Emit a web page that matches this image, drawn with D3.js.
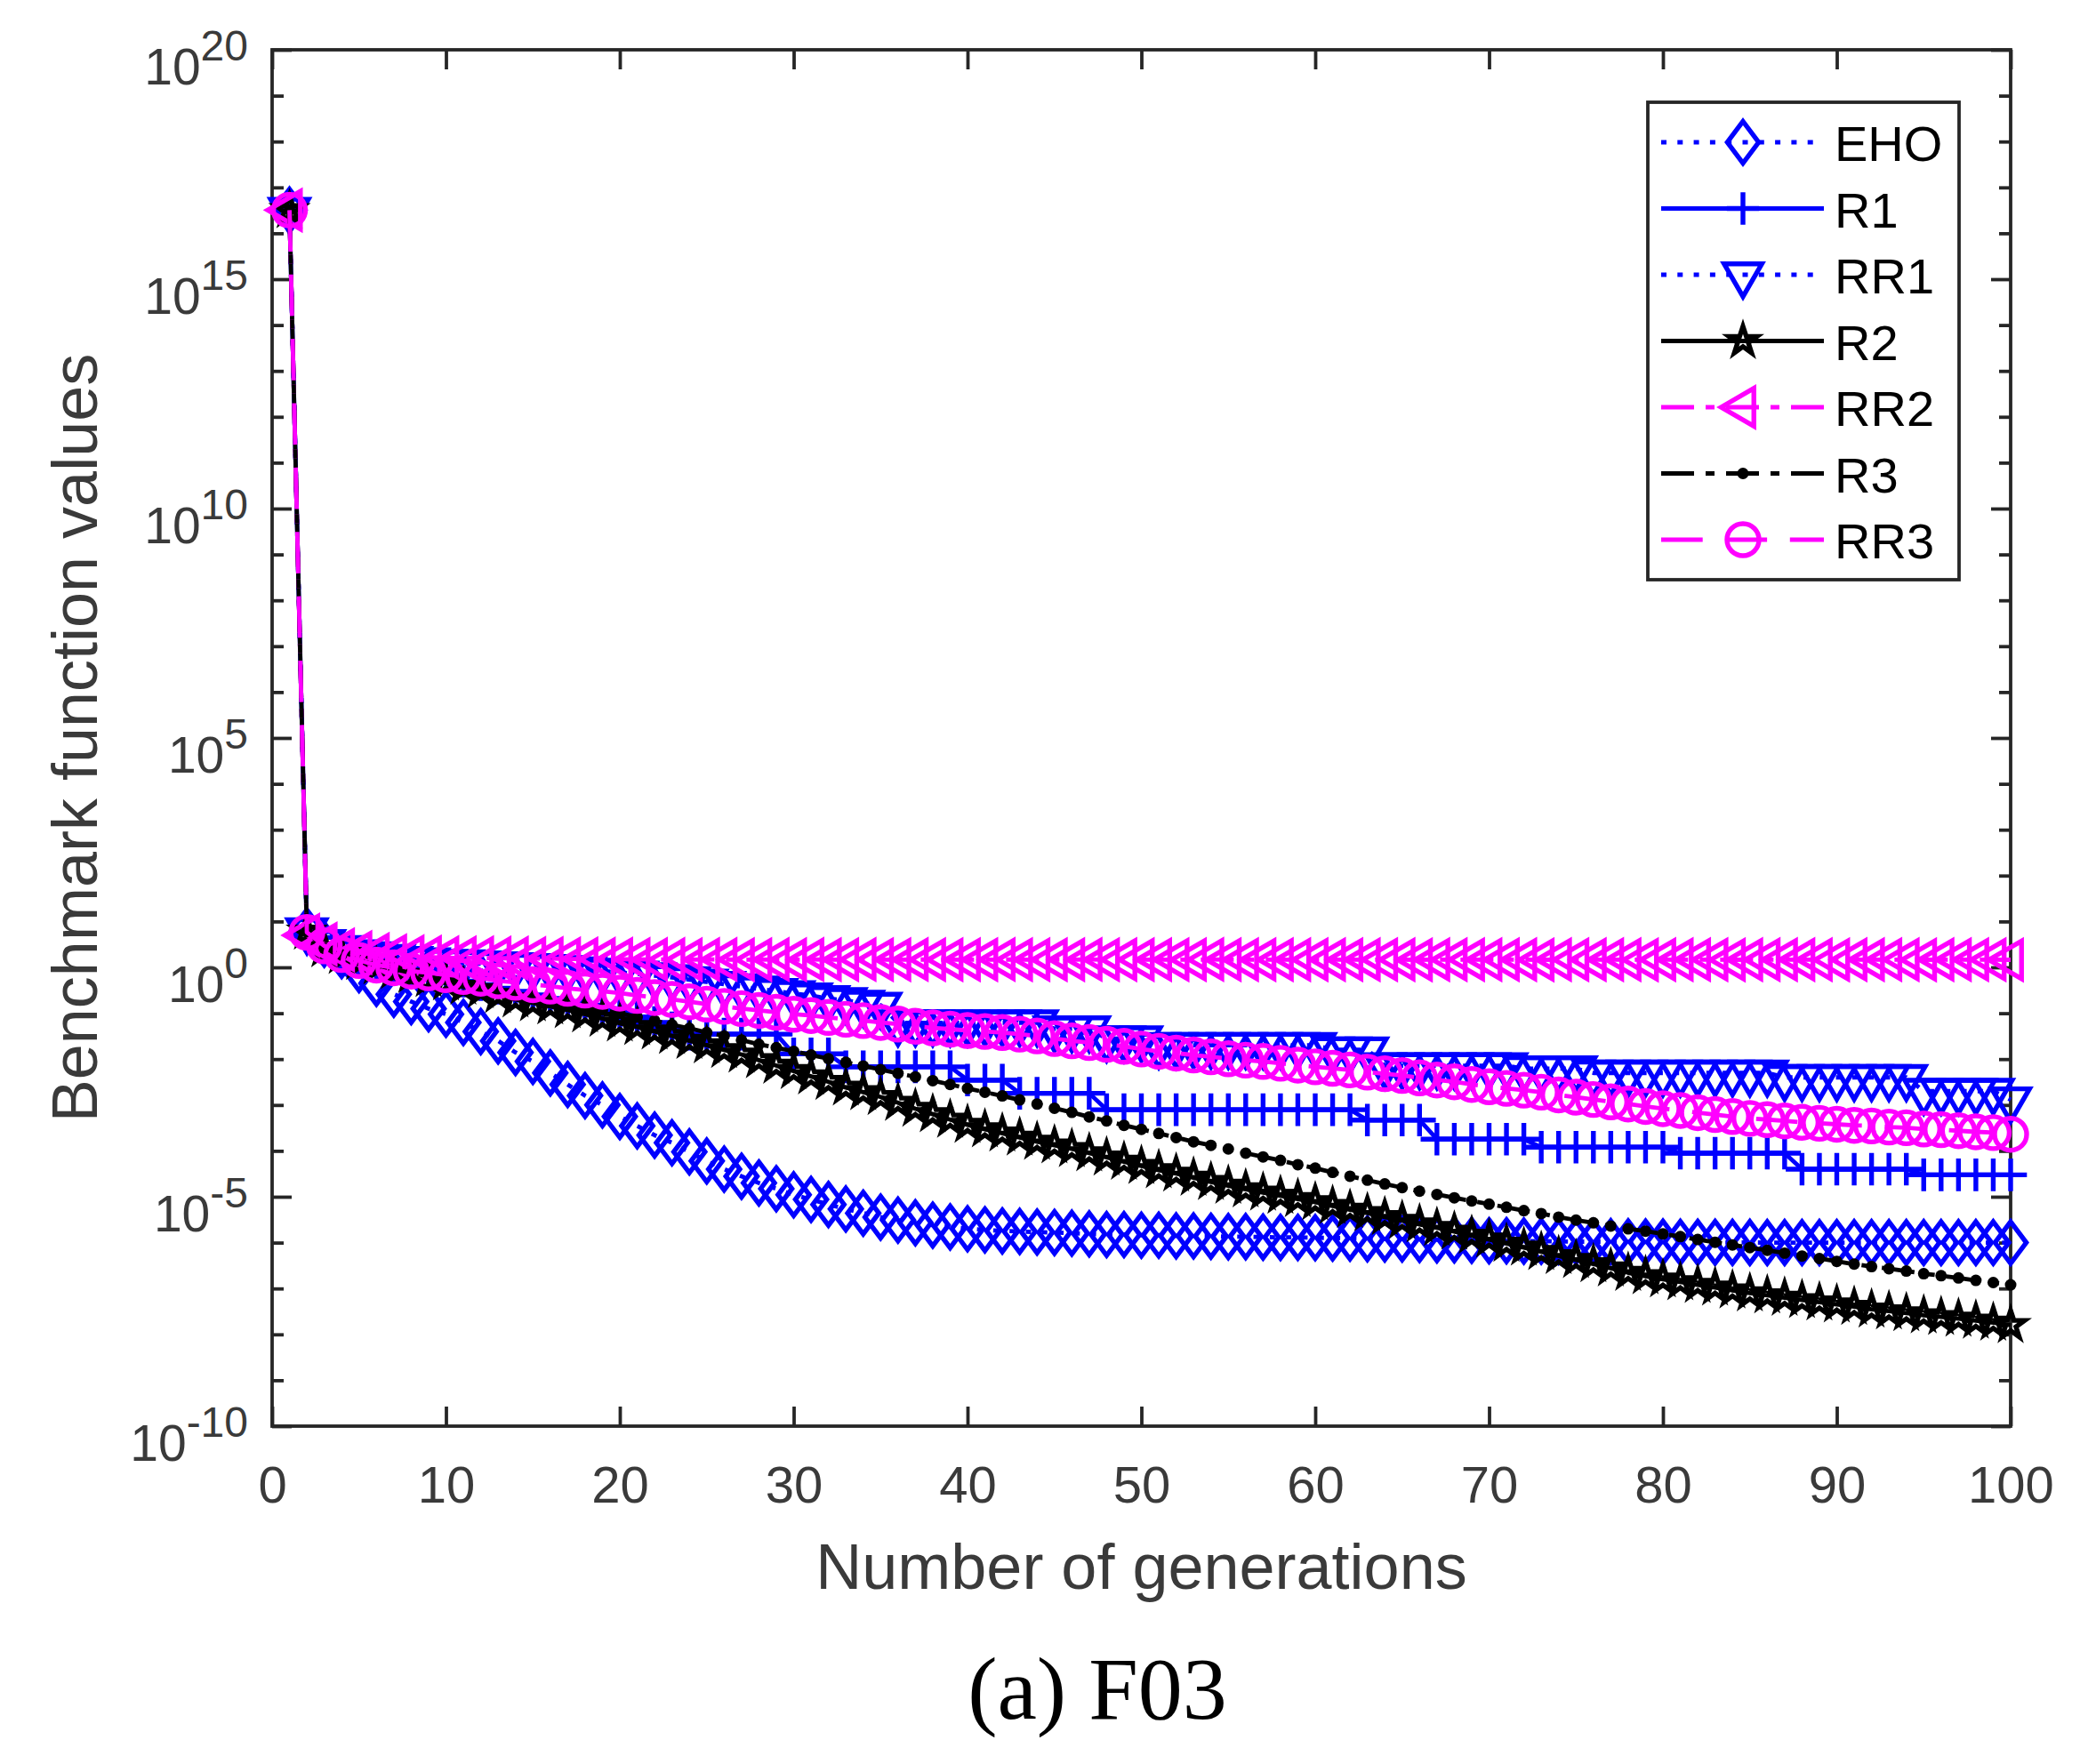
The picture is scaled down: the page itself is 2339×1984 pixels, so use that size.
<!DOCTYPE html>
<html>
<head>
<meta charset="utf-8">
<script src="https://cdn.jsdelivr.net/npm/d3@7"></script>
<style>
  html, body { margin: 0; padding: 0; background: #ffffff; }
  svg { display: block; }
</style>
</head>
<body>
<svg id="chart" width="2339" height="1984"></svg>
<script>
// ---------------- DATA ----------------
const generations = d3.range(1, 101);               // x categories 1..100
const xTickValues = [0, 10, 20, 30, 40, 50, 60, 70, 80, 90, 100];
const yMajorTicks = [1e-10, 1e-5, 1e0, 1e5, 1e10, 1e15, 1e20];
const yMinorTicks = d3.range(-10, 21).filter(k => k % 5 !== 0).map(k => Math.pow(10, k));
const seriesNames = ["EHO", "R1", "RR1", "R2", "RR2", "R3", "RR3"];

const ehoValues = [
  3.2e16, 6.3, 3.2, 1.8, 0.89, 0.45, 0.26, 0.18, 0.126, 0.095,
  0.063, 0.04, 0.025, 0.014, 8.9e-3, 5.0e-3, 2.8e-3, 1.6e-3, 1.0e-3, 5.6e-4,
  3.5e-4, 2.2e-4, 1.5e-4, 9.5e-5, 6.0e-5, 4.0e-5, 2.8e-5, 2.0e-5, 1.5e-5, 1.1e-5,
  8.7e-6, 6.8e-6, 5.4e-6, 4.4e-6, 3.6e-6, 3.1e-6, 2.7e-6, 2.4e-6, 2.2e-6, 2.0e-6,
  1.9e-6, 1.8e-6, 1.75e-6, 1.7e-6, 1.66e-6, 1.6e-6, 1.55e-6, 1.5e-6, 1.5e-6, 1.45e-6,
  1.45e-6, 1.4e-6, 1.4e-6, 1.38e-6, 1.35e-6, 1.35e-6, 1.32e-6, 1.3e-6, 1.3e-6, 1.28e-6,
  1.26e-6, 1.25e-6, 1.22e-6, 1.2e-6, 1.2e-6, 1.18e-6, 1.15e-6, 1.15e-6, 1.12e-6, 1.1e-6,
  1.1e-6, 1.08e-6, 1.08e-6, 1.06e-6, 1.05e-6, 1.05e-6, 1.05e-6, 1.04e-6, 1.03e-6, 1.03e-6,
  1.02e-6, 1.02e-6, 1.02e-6, 1.01e-6, 1.01e-6, 1.0e-6, 1.0e-6, 1.0e-6, 1.0e-6, 1.0e-6,
  1.0e-6, 1.0e-6, 1.0e-6, 1.0e-6, 1.0e-6, 1.0e-6, 1.0e-6, 1.0e-6, 1.0e-6, 1.0e-6
];
const r1Values = [
  3.2e16, 6.3, 2.8, 2.0, 1.6, 1.26, 1.0, 0.83, 0.71, 0.6,
  0.5, 0.42, 0.35, 0.3, 0.25, 0.21, 0.18, 0.15, 0.126, 0.105,
  0.083, 0.063, 0.048, 0.035, 0.035, 0.035, 0.035, 0.035, 0.035, 0.013,
  0.013, 0.013, 6.8e-3, 6.8e-3, 6.8e-3, 6.8e-3, 6.8e-3, 6.8e-3, 6.8e-3, 3.5e-3,
  3.5e-3, 3.5e-3, 1.8e-3, 1.8e-3, 1.8e-3, 1.8e-3, 1.8e-3, 7.9e-4, 7.9e-4, 7.9e-4,
  7.9e-4, 7.9e-4, 7.9e-4, 7.9e-4, 7.9e-4, 7.9e-4, 7.9e-4, 7.9e-4, 7.9e-4, 7.9e-4,
  7.9e-4, 7.9e-4, 4.7e-4, 4.7e-4, 4.7e-4, 4.7e-4, 1.8e-4, 1.8e-4, 1.8e-4, 1.8e-4,
  1.8e-4, 1.8e-4, 1.2e-4, 1.2e-4, 1.2e-4, 1.2e-4, 1.2e-4, 1.2e-4, 1.2e-4, 1.2e-4,
  8.9e-5, 8.9e-5, 8.9e-5, 8.9e-5, 8.9e-5, 8.9e-5, 8.9e-5, 4.0e-5, 4.0e-5, 4.0e-5,
  4.0e-5, 4.0e-5, 4.0e-5, 4.0e-5, 3.0e-5, 3.0e-5, 3.0e-5, 3.0e-5, 3.0e-5, 3.0e-5
];
const rr1Values = [
  3.2e16, 6.3, 3.5, 2.6, 2.1, 1.9, 1.66, 1.5, 1.4, 1.3,
  1.26, 1.2, 1.15, 1.1, 1.05, 1.0, 0.95, 0.89, 0.83, 0.78,
  0.72, 0.66, 0.6, 0.54, 0.48, 0.43, 0.38, 0.34, 0.3, 0.27,
  0.24, 0.21, 0.19, 0.166, 0.15, 0.062, 0.062, 0.062, 0.062, 0.062,
  0.062, 0.062, 0.062, 0.062, 0.046, 0.046, 0.046, 0.028, 0.028, 0.028,
  0.02, 0.02, 0.02, 0.02, 0.02, 0.02, 0.02, 0.02, 0.02, 0.02,
  0.016, 0.016, 0.016, 7.2e-3, 7.2e-3, 7.2e-3, 7.2e-3, 7.2e-3, 7.2e-3, 7.2e-3,
  7.2e-3, 6.2e-3, 6.2e-3, 6.2e-3, 6.2e-3, 5.0e-3, 5.0e-3, 5.0e-3, 5.0e-3, 5.0e-3,
  5.0e-3, 5.0e-3, 5.0e-3, 5.0e-3, 5.0e-3, 5.0e-3, 4.0e-3, 4.0e-3, 4.0e-3, 4.0e-3,
  4.0e-3, 4.0e-3, 4.0e-3, 4.0e-3, 2.0e-3, 2.0e-3, 2.0e-3, 2.0e-3, 2.0e-3, 1.3e-3
];
const r2Values = [
  3.2e16, 6.0, 2.5, 1.78, 1.32, 1.05, 0.83, 0.68, 0.56, 0.47,
  0.38, 0.32, 0.25, 0.2, 0.166, 0.141, 0.117, 0.095, 0.076, 0.06,
  0.05, 0.04, 0.032, 0.025, 0.02, 0.0158, 0.0126, 9.5e-3, 7.2e-3, 5.5e-3,
  4.2e-3, 3.2e-3, 2.4e-3, 1.9e-3, 1.5e-3, 1.12e-3, 8.3e-4, 6.3e-4, 4.8e-4, 3.7e-4,
  2.95e-4, 2.4e-4, 1.95e-4, 1.58e-4, 1.32e-4, 1.1e-4, 8.9e-5, 7.2e-5, 5.8e-5, 4.7e-5,
  3.8e-5, 3.2e-5, 2.6e-5, 2.1e-5, 1.74e-5, 1.45e-5, 1.23e-5, 1.05e-5, 8.9e-6, 7.6e-6,
  6.3e-6, 5.2e-6, 4.4e-6, 3.6e-6, 3.0e-6, 2.5e-6, 2.1e-6, 1.74e-6, 1.41e-6, 1.17e-6,
  9.5e-7, 7.8e-7, 6.3e-7, 5.1e-7, 4.2e-7, 3.4e-7, 2.75e-7, 2.2e-7, 1.86e-7, 1.58e-7,
  1.38e-7, 1.2e-7, 1.05e-7, 9.1e-8, 7.9e-8, 7.1e-8, 6.3e-8, 5.6e-8, 5.0e-8, 4.5e-8,
  4.0e-8, 3.5e-8, 3.2e-8, 2.9e-8, 2.6e-8, 2.4e-8, 2.2e-8, 2.0e-8, 1.8e-8, 1.6e-8
];
const rr2Values = [
  3.2e16, 5.0, 3.2, 2.4, 2.1, 1.9, 1.78, 1.7, 1.66, 1.62,
  1.6, 1.6, 1.58, 1.58, 1.55, 1.55, 1.52, 1.52, 1.5, 1.5,
  1.49, 1.48, 1.48, 1.47, 1.48, 1.48, 1.47, 1.47, 1.48, 1.47,
  1.48, 1.47, 1.47, 1.48, 1.47, 1.47, 1.48, 1.47, 1.47, 1.47,
  1.47, 1.48, 1.47, 1.47, 1.47, 1.47, 1.48, 1.47, 1.47, 1.47,
  1.47, 1.47, 1.47, 1.48, 1.47, 1.47, 1.47, 1.47, 1.47, 1.47,
  1.47, 1.47, 1.47, 1.47, 1.47, 1.46, 1.47, 1.47, 1.47, 1.47,
  1.47, 1.47, 1.46, 1.47, 1.47, 1.47, 1.47, 1.47, 1.46, 1.47,
  1.47, 1.47, 1.47, 1.46, 1.47, 1.47, 1.47, 1.47, 1.47, 1.46,
  1.47, 1.47, 1.47, 1.47, 1.46, 1.47, 1.47, 1.47, 1.47, 1.46
];
const r3Values = [
  3.2e16, 6.0, 2.6, 1.86, 1.41, 1.12, 0.91, 0.76, 0.63, 0.54,
  0.45, 0.37, 0.32, 0.27, 0.23, 0.195, 0.166, 0.138, 0.117, 0.1,
  0.083, 0.069, 0.056, 0.047, 0.038, 0.032, 0.026, 0.021, 0.0178, 0.0148,
  0.0123, 0.0102, 8.5e-3, 7.1e-3, 5.9e-3, 4.9e-3, 4.1e-3, 3.4e-3, 2.8e-3, 2.3e-3,
  1.9e-3, 1.58e-3, 1.29e-3, 1.05e-3, 8.5e-4, 6.9e-4, 5.5e-4, 4.5e-4, 3.6e-4, 2.95e-4,
  2.4e-4, 1.95e-4, 1.58e-4, 1.32e-4, 1.1e-4, 8.9e-5, 7.4e-5, 6.2e-5, 5.0e-5, 4.2e-5,
  3.4e-5, 2.8e-5, 2.3e-5, 1.9e-5, 1.58e-5, 1.32e-5, 1.12e-5, 9.5e-6, 8.1e-6, 6.9e-6,
  5.9e-6, 5.0e-6, 4.3e-6, 3.6e-6, 3.1e-6, 2.7e-6, 2.3e-6, 2.0e-6, 1.78e-6, 1.55e-6,
  1.35e-6, 1.17e-6, 1.02e-6, 8.9e-7, 7.8e-7, 6.8e-7, 5.9e-7, 5.1e-7, 4.5e-7, 3.9e-7,
  3.4e-7, 3.0e-7, 2.7e-7, 2.4e-7, 2.1e-7, 1.9e-7, 1.7e-7, 1.5e-7, 1.35e-7, 1.2e-7
];
const rr3Values = [
  3.2e16, 5.8, 2.95, 1.9, 1.41, 1.12, 0.98, 0.83, 0.76, 0.69,
  0.63, 0.58, 0.51, 0.47, 0.42, 0.39, 0.35, 0.32, 0.3, 0.275,
  0.245, 0.22, 0.2, 0.178, 0.158, 0.141, 0.126, 0.115, 0.105, 0.095,
  0.089, 0.081, 0.074, 0.069, 0.063, 0.058, 0.052, 0.048, 0.045, 0.042,
  0.04, 0.038, 0.035, 0.032, 0.028, 0.025, 0.023, 0.021, 0.019, 0.0166,
  0.0148, 0.0135, 0.0123, 0.0112, 0.0102, 9.5e-3, 8.9e-3, 8.1e-3, 7.4e-3, 6.8e-3,
  6.3e-3, 5.8e-3, 5.2e-3, 4.8e-3, 4.4e-3, 3.9e-3, 3.5e-3, 3.2e-3, 2.8e-3, 2.5e-3,
  2.3e-3, 2.1e-3, 1.9e-3, 1.66e-3, 1.48e-3, 1.32e-3, 1.17e-3, 1.05e-3, 9.3e-4, 8.3e-4,
  7.6e-4, 6.8e-4, 6.2e-4, 5.6e-4, 5.1e-4, 4.8e-4, 4.5e-4, 4.2e-4, 4.0e-4, 3.8e-4,
  3.6e-4, 3.5e-4, 3.3e-4, 3.2e-4, 3.0e-4, 2.9e-4, 2.75e-4, 2.6e-4, 2.5e-4, 2.3e-4
];

// ---------------- STYLES ----------------
const BLUE = "#0000ff", MAGENTA = "#ff00ff", BLACK = "#000000";
const AXIS_COLOR = "#262626", TEXT_COLOR = "#3a3a3a";
const SANS = "'Liberation Sans', Arial, Helvetica, sans-serif";
const SERIF = "'Liberation Serif', 'Times New Roman', serif";
const LW = 4.8;      // line width
const MW = 5.4;      // marker edge width

function starPath(R) {
  const r = R * 0.382; let p = "";
  for (let i = 0; i < 10; i++) {
    const a = -Math.PI / 2 + i * Math.PI / 5, rr = i % 2 ? r : R;
    p += (i ? "L" : "M") + (rr * Math.cos(a)).toFixed(2) + "," + (rr * Math.sin(a)).toFixed(2);
  }
  return p + "Z";
}
const triR = 24.5;
const markerPaths = {
  diamond: "M0,-23.5L17.6,0L0,23.5L-17.6,0Z",
  plus: "M-18.3,0H18.3M0,-18.3V18.3",
  triDown: `M${-triR*0.866},${-triR/2}L${triR*0.866},${-triR/2}L0,${triR}Z`,
  triLeft: `M${-triR},0L${triR/2},${-triR*0.866}L${triR/2},${triR*0.866}Z`,
  star: starPath(16.5),
  circle: "M18,0A18,18 0 1,1 -18,0A18,18 0 1,1 18,0Z",
  dot: "M6.5,0A6.5,6.5 0 1,1 -6.5,0A6.5,6.5 0 1,1 6.5,0Z"
};

const seriesList = [
  { name: seriesNames[0], values: ehoValues, color: BLUE,    dash: "6,12.3",        marker: "diamond" },
  { name: seriesNames[1], values: r1Values,  color: BLUE,    dash: null,            marker: "plus" },
  { name: seriesNames[2], values: rr1Values, color: BLUE,    dash: "6,12.3",        marker: "triDown" },
  { name: seriesNames[3], values: r2Values,  color: BLACK,   dash: null,            marker: "star" },
  { name: seriesNames[4], values: rr2Values, color: MAGENTA, dash: "37,13,10,13",   marker: "triLeft" },
  { name: seriesNames[5], values: r3Values,  color: BLACK,   dash: "37,13,10,13",   marker: "dot" },
  { name: seriesNames[6], values: rr3Values, color: MAGENTA, dash: "46.7,25.7",     marker: "circle" }
];

// ---------------- LAYOUT ----------------
const svg = d3.select("#chart");
const plot = { left: 306, right: 2261, top: 56, bottom: 1604 };
const x = d3.scaleLinear().domain([0, 100]).range([plot.left, plot.right]);
const y = d3.scaleLog().domain([1e-10, 1e20]).range([plot.bottom, plot.top]);

svg.append("rect").attr("x", 0).attr("y", 0).attr("width", 2339).attr("height", 1984).attr("fill", "#fff");

function styleAxis(g) {
  g.select(".domain").remove();
  g.attr("font-family", SANS);
  g.selectAll(".tick line").attr("stroke", AXIS_COLOR).attr("stroke-width", 3.8);
}

// bottom x axis with labels
const gxb = svg.append("g").attr("transform", `translate(0,${plot.bottom})`)
  .call(d3.axisBottom(x).tickValues(xTickValues).tickSizeInner(-22).tickSizeOuter(0).tickFormat(d3.format("d")));
styleAxis(gxb);
gxb.selectAll(".tick text").attr("y", 86).attr("dy", null).attr("font-size", 58).attr("fill", TEXT_COLOR);

// top x axis (mirrored ticks)
const gxt = svg.append("g").attr("transform", `translate(0,${plot.top})`)
  .call(d3.axisTop(x).tickValues(xTickValues).tickSizeInner(-22).tickSizeOuter(0).tickFormat(""));
styleAxis(gxt);

// left y axis, major + minor
const gyl = svg.append("g").attr("transform", `translate(${plot.left},0)`)
  .call(d3.axisLeft(y).tickValues(yMajorTicks).tickSizeInner(-22).tickSizeOuter(0).tickFormat(""));
styleAxis(gyl);
gyl.selectAll(".tick text").each(function (d) {
  const t = d3.select(this);
  t.text(null).attr("x", -27).attr("y", 38.5).attr("dy", null)
    .attr("text-anchor", "end").attr("font-size", 57).attr("fill", TEXT_COLOR);
  t.append("tspan").text("10");
  t.append("tspan").attr("dy", -27.5).attr("font-size", 48).text(String(Math.round(Math.log10(d))));
});
const gylm = svg.append("g").attr("transform", `translate(${plot.left},0)`)
  .call(d3.axisLeft(y).tickValues(yMinorTicks).tickSizeInner(-13).tickSizeOuter(0).tickFormat(""));
styleAxis(gylm);

// right y axis (mirrored ticks)
const gyr = svg.append("g").attr("transform", `translate(${plot.right},0)`)
  .call(d3.axisRight(y).tickValues(yMajorTicks).tickSizeInner(-22).tickSizeOuter(0).tickFormat(""));
styleAxis(gyr);
const gyrm = svg.append("g").attr("transform", `translate(${plot.right},0)`)
  .call(d3.axisRight(y).tickValues(yMinorTicks).tickSizeInner(-13).tickSizeOuter(0).tickFormat(""));
styleAxis(gyrm);

// box
svg.append("rect").attr("x", plot.left).attr("y", plot.top)
  .attr("width", plot.right - plot.left).attr("height", plot.bottom - plot.top)
  .attr("fill", "none").attr("stroke", AXIS_COLOR).attr("stroke-width", 3.8);

// axis titles
svg.append("text").attr("x", (plot.left + plot.right) / 2).attr("y", 1787)
  .attr("text-anchor", "middle").attr("font-family", SANS).attr("font-size", 72)
  .attr("fill", TEXT_COLOR).text("Number of generations");
svg.append("text").attr("transform", `translate(109,${(plot.top + plot.bottom) / 2}) rotate(-90)`)
  .attr("text-anchor", "middle").attr("font-family", SANS).attr("font-size", 72)
  .attr("fill", TEXT_COLOR).text("Benchmark function values");

// caption
svg.append("text").attr("x", 1234).attr("y", 1933).attr("text-anchor", "middle")
  .attr("font-family", SERIF).attr("font-size", 100).attr("fill", "#000").text("(a) F03");

// ---------------- SERIES ----------------
const line = d3.line().x(d => x(d.g)).y(d => y(d.v));
seriesList.forEach(s => {
  const pts = generations.map((g, i) => ({ g: g, v: s.values[i] }));
  const gs = svg.append("g").attr("class", "series");
  gs.append("path").datum(pts).attr("d", line)
    .attr("fill", "none").attr("stroke", s.color).attr("stroke-width", LW)
    .attr("stroke-dasharray", s.dash).attr("stroke-linejoin", "round");
  gs.selectAll("path.mk").data(pts).join("path").attr("class", "mk")
    .attr("transform", d => `translate(${x(d.g)},${y(d.v)})`)
    .attr("d", markerPaths[s.marker])
    .attr("fill", s.marker === "dot" ? s.color : "none")
    .attr("stroke", s.color).attr("stroke-width", s.marker === "dot" ? 0 : MW)
    .attr("stroke-linejoin", "miter");
});

// ---------------- LEGEND ----------------
const legend = svg.append("g").attr("class", "legend");
legend.append("rect").attr("x", 1853).attr("y", 115).attr("width", 350).attr("height", 537)
  .attr("fill", "#fff").attr("stroke", AXIS_COLOR).attr("stroke-width", 3.8);
const legendY = d3.scalePoint().domain(seriesNames).range([160, 607]);
seriesList.forEach(s => {
  const ly = legendY(s.name);
  legend.append("line").attr("x1", 1868).attr("x2", 2051).attr("y1", ly).attr("y2", ly)
    .attr("stroke", s.color).attr("stroke-width", LW).attr("stroke-dasharray", s.dash);
  legend.append("path").attr("transform", `translate(1960,${ly})`).attr("d", markerPaths[s.marker])
    .attr("fill", s.marker === "dot" ? s.color : "none")
    .attr("stroke", s.color).attr("stroke-width", s.marker === "dot" ? 0 : MW);
  legend.append("text").attr("x", 2063).attr("y", ly + 21).attr("font-family", SANS)
    .attr("font-size", 56).attr("fill", "#000").text(s.name);
});
</script>
</body>
</html>
